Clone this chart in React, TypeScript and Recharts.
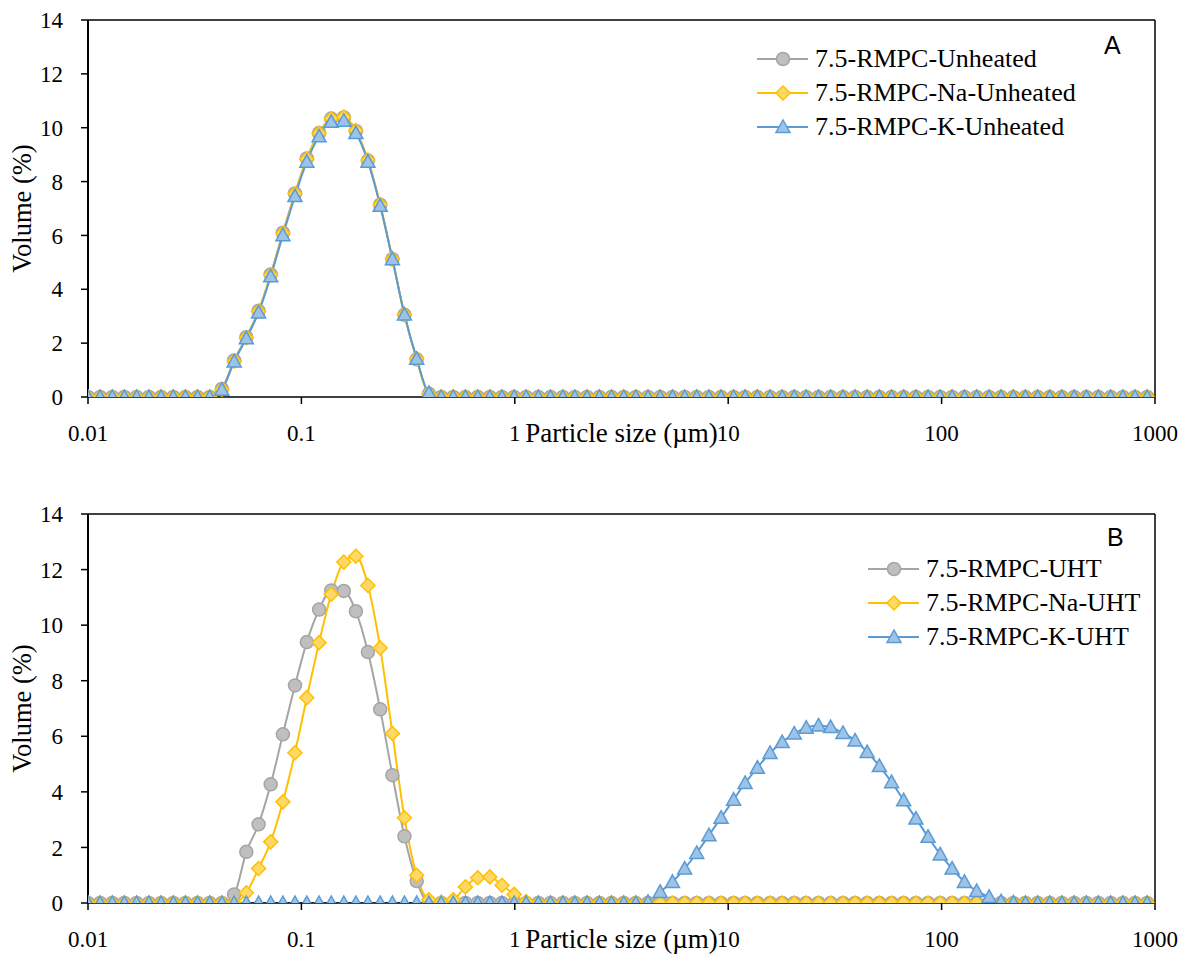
import React from "react";
import { LineChart, Line, XAxis, YAxis, Legend, Label, ReferenceLine } from "recharts";

const SERIF = "\"Liberation Serif\", Tinos, \"Times New Roman\", Times, \"DejaVu Serif\", \"Noto Serif\", serif";
const SANS = "\"Liberation Sans\", Arial, sans-serif";

// particle size classes (µm)
const SIZE_UM = [
  0.0100, 0.0114, 0.0130, 0.0148, 0.0169, 0.0193, 0.0220, 0.0251, 0.0286, 0.0326,
  0.0372, 0.0424, 0.0484, 0.0552, 0.0630, 0.0718, 0.0819, 0.0933, 0.106, 0.121,
  0.138, 0.158, 0.180, 0.205, 0.234, 0.267, 0.304, 0.347, 0.396, 0.452,
  0.515, 0.587, 0.670, 0.764, 0.871, 0.993, 1.13, 1.29, 1.47, 1.68,
  1.91, 2.18, 2.49, 2.84, 3.24, 3.69, 4.21, 4.80, 5.48, 6.25,
  7.12, 8.12, 9.26, 10.6, 12.0, 13.7, 15.7, 17.9, 20.4, 23.2,
  26.5, 30.2, 34.5, 39.3, 44.8, 51.1, 58.3, 66.4, 75.8, 86.4,
  98.5, 112, 128, 146, 167, 190, 217, 247, 282, 321,
  366, 418, 477, 543, 620, 707, 806, 919,
];

// panel A – unheated
const A_UNHEATED = [
  0, 0, 0, 0, 0, 0, 0, 0, 0, 0,
  0, 0.30, 1.36, 2.22, 3.20, 4.55, 6.10, 7.56, 8.86, 9.80,
  10.34, 10.38, 9.88, 8.78, 7.14, 5.12, 3.05, 1.40, 0.12, 0,
  0, 0, 0, 0, 0, 0, 0, 0, 0, 0,
  0, 0, 0, 0, 0, 0, 0, 0, 0, 0,
  0, 0, 0, 0, 0, 0, 0, 0, 0, 0,
  0, 0, 0, 0, 0, 0, 0, 0, 0, 0,
  0, 0, 0, 0, 0, 0, 0, 0, 0, 0,
  0, 0, 0, 0, 0, 0, 0, 0,
];
const A_NA_UNHEATED = [
  0, 0, 0, 0, 0, 0, 0, 0, 0, 0,
  0, 0.28, 1.33, 2.20, 3.18, 4.53, 6.08, 7.55, 8.84, 9.79,
  10.33, 10.40, 9.90, 8.80, 7.15, 5.13, 3.06, 1.42, 0.10, 0,
  0, 0, 0, 0, 0, 0, 0, 0, 0, 0,
  0, 0, 0, 0, 0, 0, 0, 0, 0, 0,
  0, 0, 0, 0, 0, 0, 0, 0, 0, 0,
  0, 0, 0, 0, 0, 0, 0, 0, 0, 0,
  0, 0, 0, 0, 0, 0, 0, 0, 0, 0,
  0, 0, 0, 0, 0, 0, 0, 0,
];
const A_K_UNHEATED = [
  0, 0, 0, 0, 0, 0, 0, 0, 0, 0,
  0, 0.27, 1.32, 2.18, 3.14, 4.48, 6.01, 7.46, 8.74, 9.68,
  10.22, 10.26, 9.80, 8.74, 7.10, 5.12, 3.06, 1.42, 0.15, 0,
  0, 0, 0, 0, 0, 0, 0, 0, 0, 0,
  0, 0, 0, 0, 0, 0, 0, 0, 0, 0,
  0, 0, 0, 0, 0, 0, 0, 0, 0, 0,
  0, 0, 0, 0, 0, 0, 0, 0, 0, 0,
  0, 0, 0, 0, 0, 0, 0, 0, 0, 0,
  0, 0, 0, 0, 0, 0, 0, 0,
];

// panel B – UHT
const B_UHT = [
  0, 0, 0, 0, 0, 0, 0, 0, 0, 0,
  0, 0, 0.31, 1.84, 2.83, 4.27, 6.07, 7.83, 9.39, 10.56,
  11.25, 11.23, 10.50, 9.03, 6.97, 4.60, 2.40, 0.79, 0.02, 0,
  0, 0, 0, 0, 0, 0, 0, 0, 0, 0,
  0, 0, 0, 0, 0, 0, 0, 0, 0, 0,
  0, 0, 0, 0, 0, 0, 0, 0, 0, 0,
  0, 0, 0, 0, 0, 0, 0, 0, 0, 0,
  0, 0, 0, 0, 0, 0, 0, 0, 0, 0,
  0, 0, 0, 0, 0, 0, 0, 0,
];
const B_NA_UHT = [
  0, 0, 0, 0, 0, 0, 0, 0, 0, 0,
  0, 0, 0, 0.37, 1.24, 2.20, 3.64, 5.41, 7.39, 9.37,
  11.11, 12.27, 12.48, 11.43, 9.18, 6.10, 3.07, 1.00, 0.12, 0.03,
  0.12, 0.58, 0.91, 0.94, 0.64, 0.31, 0.05, 0, 0, 0,
  0, 0, 0, 0, 0, 0, 0, 0, 0, 0,
  0, 0, 0, 0, 0, 0, 0, 0, 0, 0,
  0, 0, 0, 0, 0, 0, 0, 0, 0, 0,
  0, 0, 0, 0, 0, 0, 0, 0, 0, 0,
  0, 0, 0, 0, 0, 0, 0, 0,
];
const B_K_UHT = [
  0, 0, 0, 0, 0, 0, 0, 0, 0, 0,
  0, 0, 0, 0, 0, 0, 0, 0, 0, 0,
  0, 0, 0, 0, 0, 0, 0, 0, 0, 0,
  0, 0, 0, 0, 0, 0, 0, 0, 0, 0,
  0, 0, 0, 0, 0, 0, 0.04, 0.40, 0.76, 1.24,
  1.80, 2.44, 3.07, 3.72, 4.32, 4.87, 5.40, 5.79, 6.10, 6.31,
  6.39, 6.33, 6.12, 5.85, 5.43, 4.93, 4.35, 3.70, 3.04, 2.38,
  1.75, 1.24, 0.76, 0.43, 0.22, 0.06, 0.02, 0, 0, 0,
  0, 0, 0, 0, 0, 0, 0, 0,
];

const NAMES_A = ["7.5-RMPC-Unheated", "7.5-RMPC-Na-Unheated", "7.5-RMPC-K-Unheated"];
const NAMES_B = ["7.5-RMPC-UHT", "7.5-RMPC-Na-UHT", "7.5-RMPC-K-UHT"];
const X_TICKS = [0.01, 0.1, 1, 10, 100, 1000];
const Y_TICKS = [0, 2, 4, 6, 8, 10, 12, 14];

type Shape = "circle" | "diamond" | "triangle";
const STYLES: { line: string; fill: string; shape: Shape }[] = [
  { line: "#A5A5A5", fill: "#BFBFBF", shape: "circle" },
  { line: "#FFC000", fill: "#FFD966", shape: "diamond" },
  { line: "#5B9BD5", fill: "#9DC3E6", shape: "triangle" },
];

const rowsA = SIZE_UM.map((x, i) => ({ x, s0: A_UNHEATED[i], s1: A_NA_UNHEATED[i], s2: A_K_UNHEATED[i] }));
const rowsB = SIZE_UM.map((x, i) => ({ x, s0: B_UHT[i], s1: B_NA_UHT[i], s2: B_K_UHT[i] }));

function Marker({ cx, cy, shape, stroke, fill }: { cx?: number; cy?: number; shape: Shape; stroke: string; fill: string }) {
  if (cx == null || cy == null) return null;
  if (shape === "circle") return <circle cx={cx} cy={cy} r={6.5} fill={fill} stroke={stroke} strokeWidth={1.5} />;
  if (shape === "diamond") {
    const d = 7;
    return <polygon points={`${cx},${cy - d} ${cx + d},${cy} ${cx},${cy + d} ${cx - d},${cy}`} fill={fill} stroke={stroke} strokeWidth={1.5} />;
  }
  return <polygon points={`${cx},${cy - 7} ${cx + 7},${cy + 5.5} ${cx - 7},${cy + 5.5}`} fill={fill} stroke={stroke} strokeWidth={1.5} strokeLinejoin="miter" />;
}

function legendRenderer(names: string[]) {
  return () => (
    <div style={{ fontFamily: SERIF, fontSize: 26, color: "#000" }}>
      {names.map((name, i) => {
        const st = STYLES[i];
        return (
          <div key={name} style={{ display: "flex", alignItems: "center", height: 34, whiteSpace: "nowrap" }}>
            <svg width={56} height={34} style={{ display: "block" }}>
              <line x1={2} y1={17} x2={53} y2={17} stroke={st.line} strokeWidth={2} />
              <Marker cx={28} cy={17} shape={st.shape} stroke={st.line} fill={st.fill} />
            </svg>
            <span style={{ marginLeft: 4, lineHeight: "34px" }}>{name}</span>
          </div>
        );
      })}
    </div>
  );
}

function XTitle(props: any) {
  const vb = props.viewBox || { x: 88, y: 0, width: 1067 };
  return (
    <text x={vb.x + vb.width / 2} y={vb.y + 45} textAnchor="middle" style={{ fontFamily: SERIF }} fontSize={27} fill="#000">
      Particle size (µm)
    </text>
  );
}

function YTitle(props: any) {
  const vb = props.viewBox || { y: 0, height: 0 };
  const cy = vb.y + vb.height / 2;
  return (
    <text x={22} y={cy} transform={`rotate(-90, 22, ${cy})`} textAnchor="middle" dominantBaseline="central"
      style={{ fontFamily: SERIF }} fontSize={26.5} fill="#000">
      Volume (%)
    </text>
  );
}

function Panel({ data, names, height, top, plotH, legendTop, legendLeft }: {
  data: typeof rowsA; names: string[]; height: number; top: number; plotH: number; legendTop: number; legendLeft: number;
}) {
  const tickStyle = { fontSize: 23, fill: "#000", style: { fontFamily: SERIF } };
  return (
    <LineChart width={1187} height={height} data={data} style={{ fontFamily: SERIF }}
      margin={{ top, right: 32, left: 0, bottom: height - top - plotH - 40 }}>
      <XAxis dataKey="x" type="number" scale="log" domain={[0.01, 1000]} ticks={X_TICKS} allowDataOverflow
        tickFormatter={(v: number) => String(v)} height={40} tickSize={7} tickMargin={21}
        axisLine={{ stroke: "#000", strokeWidth: 1.5 }} tickLine={{ stroke: "#000", strokeWidth: 1.5 }}
        tick={tickStyle}>
        <Label content={XTitle} />
      </XAxis>
      <YAxis domain={[0, 14]} ticks={Y_TICKS} width={88} tickSize={7} tickMargin={18} allowDataOverflow
        axisLine={{ stroke: "#000", strokeWidth: 2 }} tickLine={{ stroke: "#000", strokeWidth: 1.5 }}
        tick={tickStyle}>
        <Label content={YTitle} />
      </YAxis>
      <ReferenceLine y={14} stroke="#000" strokeWidth={1.5} />
      <ReferenceLine x={1000} stroke="#000" strokeWidth={1.5} />
      {names.map((name, i) => {
        const st = STYLES[i];
        return (
          <Line key={name} name={name} dataKey={`s${i}`} type="monotone" stroke={st.line} strokeWidth={2}
            isAnimationActive={false}
            dot={(p: any) => <Marker key={`${name}-${p.index}`} cx={p.cx} cy={p.cy} shape={st.shape} stroke={st.line} fill={st.fill} />}
            activeDot={false} />
        );
      })}
      <Legend layout="vertical" align="center" verticalAlign="middle" content={legendRenderer(names)}
        wrapperStyle={{ left: legendLeft, top: legendTop, width: 420 }} />
    </LineChart>
  );
}

export default function App() {
  return (
    <div style={{ position: "absolute", left: 0, top: 0, width: 1187, height: 962, background: "#fff", fontFamily: SERIF }}>
      <div style={{ position: "absolute", left: 0, top: 0 }}>
        <Panel data={rowsA} names={NAMES_A} height={480} top={20} plotH={377} legendTop={42} legendLeft={755} />
      </div>
      <div style={{ position: "absolute", left: 0, top: 480 }}>
        <Panel data={rowsB} names={NAMES_B} height={482} top={34} plotH={389} legendTop={72} legendLeft={866} />
      </div>
      <div style={{ position: "absolute", left: 1104, top: 33, fontFamily: SANS, fontSize: 25, lineHeight: "25px" }}>A</div>
      <div style={{ position: "absolute", left: 1107, top: 525, fontFamily: SANS, fontSize: 25, lineHeight: "25px" }}>B</div>
    </div>
  );
}
